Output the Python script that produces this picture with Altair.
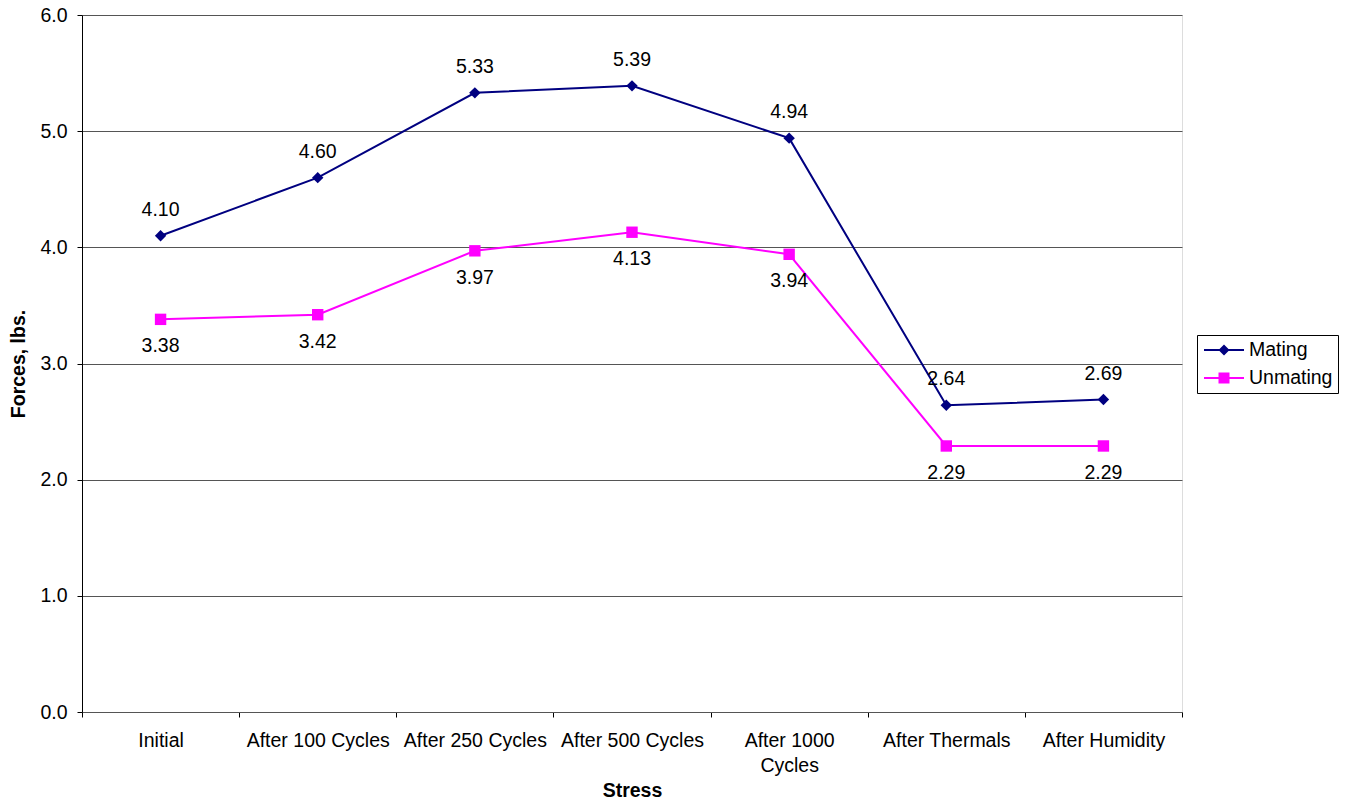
import altair as alt
import pandas as pd

categories = ["Initial", "After 100 Cycles", "After 250 Cycles", "After 500 Cycles",
              "After 1000 Cycles", "After Thermals", "After Humidity"]
mating = [4.10, 4.60, 5.33, 5.39, 4.94, 2.64, 2.69]
unmating = [3.38, 3.42, 3.97, 4.13, 3.94, 2.29, 2.29]
series_names = ["Mating", "Unmating"]
series_colors = ["#000080", "#FF00FF"]

rows = []
for s, vals in zip(series_names, [mating, unmating]):
    for c, v in zip(categories, vals):
        rows.append({"stress": c, "series": s, "value": v})
df = pd.DataFrame(rows)

FONT = "Liberation Sans"
FS = 19.5

x = alt.X(
    "stress:N", sort=categories,
    scale=alt.Scale(paddingInner=0, paddingOuter=0),
    axis=alt.Axis(
        title="Stress", labelAngle=0, tickBand="extent", grid=False,
        labelFont=FONT, labelFontSize=FS, labelColor="black",
        labelExpr="datum.label == 'After 1000 Cycles' ? ['After 1000', 'Cycles'] : datum.label",
        labelLineHeight=25, labelPadding=14, labelLimit=300,
        tickSize=5, tickColor="black", domainColor="#555555",
        titleFont=FONT, titleFontSize=FS, titleFontWeight="bold", titleColor="black",
        titlePadding=7,
    ),
)
y = alt.Y(
    "value:Q",
    scale=alt.Scale(domain=[0, 6], nice=False, zero=True),
    axis=alt.Axis(
        title="Forces, lbs.", values=[0, 1, 2, 3, 4, 5, 6], format=".1f",
        grid=True, gridColor="#555555", gridWidth=1,
        labelFont=FONT, labelFontSize=FS, labelColor="black", labelPadding=10,
        tickSize=5, tickColor="black", domainColor="black",
        titleFont=FONT, titleFontSize=FS, titleFontWeight="bold", titleColor="black",
        titlePadding=11,
    ),
)

diamond_path = "M-0.8,-0.1H3.2V0.1H-0.8Z M1.2,-0.55L1.75,0L1.2,0.55L0.65,0Z"
square_path = "M-0.8,-0.1H3.2V0.1H-0.8Z M0.65,-0.55H1.75V0.55H0.65Z"

legend = alt.Legend(
    title=None, orient="none", legendX=1115, legendY=320, direction="vertical",
    padding=5, strokeColor="black", fillColor="white", cornerRadius=0,
    labelFont=FONT, labelFontSize=FS, labelColor="black", labelOffset=27, labelLimit=300,
    symbolSize=400, symbolOpacity=1, symbolStrokeWidth=0, rowPadding=8,
)

layers = []
# legend-driving layer (invisible marks)
layers.append(
    alt.Chart(df).mark_point(filled=True, opacity=0).encode(
        x=x, y=y,
        color=alt.Color("series:N", scale=alt.Scale(domain=series_names, range=series_colors), legend=legend),
        shape=alt.Shape("series:N", scale=alt.Scale(domain=series_names, range=[diamond_path, square_path]), legend=legend),
    )
)
shapes = ["diamond", "square"]
sizes = [130, 130]
dys = [-26, 27]
for name, col, shp, sz, dy in zip(series_names, series_colors, shapes, sizes, dys):
    base = alt.Chart(df).transform_filter(alt.datum.series == name)
    layers.append(base.mark_line(color=col, strokeWidth=2).encode(x=x, y=y))
    layers.append(base.mark_point(shape=shp, filled=True, color=col, size=sz, opacity=1).encode(x=x, y=y))
    layers.append(
        base.mark_text(dy=dy, font=FONT, fontSize=FS, color="black", baseline="middle").encode(
            x=x, y=y, text=alt.Text("value:Q", format=".2f")
        )
    )

chart = alt.layer(*layers).properties(
    width=1100, height=697,
    autosize=alt.AutoSizeParams(type="none"),
    padding={"left": 74, "top": 7, "right": 159, "bottom": 91},
).configure_view(stroke=None).configure(background="white")

chart.save("out.html", embed_options={"renderer": "svg", "actions": False})
